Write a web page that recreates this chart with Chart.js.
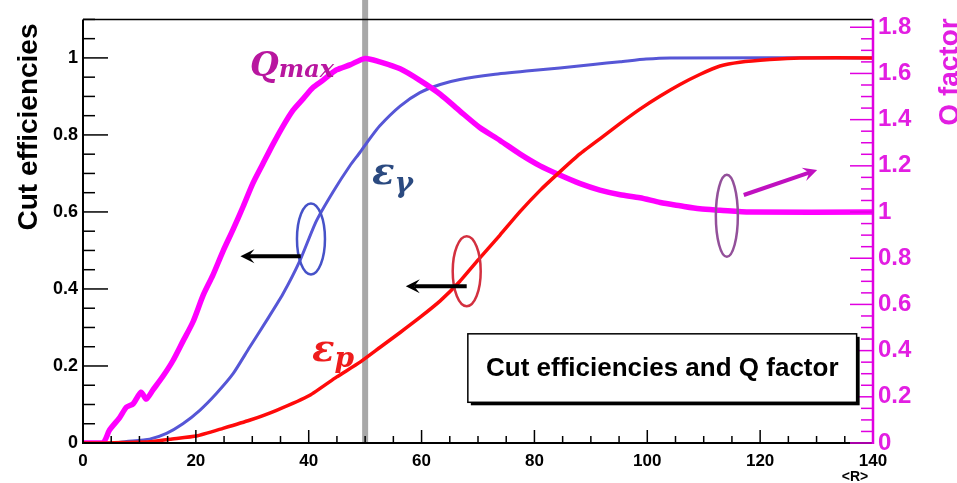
<!DOCTYPE html>
<html><head><meta charset="utf-8">
<script src="https://cdn.jsdelivr.net/npm/chart.js@4/dist/chart.umd.min.js"></script>
<style>html,body{margin:0;padding:0;background:#fff;}canvas{display:block;}</style>
</head><body>
<canvas id="c" width="957" height="483"></canvas>
<script>
// ---- data ----
const rP      = [0, 4, 7, 11.8, 15.4, 20.1, 24.8, 29.5, 34.3, 40.2, 44.9, 49.1, 52.6, 56.2, 59.7, 63.3, 66.8, 70.3, 73.9, 77.4, 81.0, 84.5, 88.0, 91.6, 95.2, 98.7, 102.3, 105.8, 109.3, 112.9, 116.4, 121.7, 127, 140];
const effP    = [0, 0, 0.001, 0.003, 0.01, 0.018, 0.038, 0.059, 0.085, 0.124, 0.171, 0.21, 0.248, 0.287, 0.326, 0.369, 0.42, 0.48, 0.54, 0.60, 0.656, 0.704, 0.75, 0.79, 0.83, 0.867, 0.901, 0.931, 0.957, 0.979, 0.989, 0.996, 1.0, 1.0];
const rG      = [0, 5, 7.7, 11.8, 14.8, 17.7, 20.7, 23.6, 26.6, 29.5, 32.5, 35.4, 38.4, 41.3, 44.3, 47.3, 49.1, 50.8, 52.6, 56.2, 59.7, 63.3, 66.8, 72.7, 78.6, 84.5, 90.4, 95.2, 99.8, 104, 140];
const effG    = [0, 0, 0.004, 0.01, 0.025, 0.05, 0.085, 0.128, 0.18, 0.248, 0.317, 0.386, 0.472, 0.575, 0.652, 0.72, 0.755, 0.79, 0.824, 0.875, 0.91, 0.931, 0.944, 0.957, 0.966, 0.974, 0.983, 0.99, 0.997, 1.0, 1.0];
const rQ      = [0, 3.5, 4.7, 6.5, 7.7, 8.9, 10.3, 11.2, 12.4, 14.2, 15.9, 17.7, 19.5, 21.3, 23.0, 24.8, 26.6, 28.4, 30.1, 31.9, 33.7, 35.4, 37.2, 39.0, 40.8, 42.5, 44.9, 47.3, 50.0, 52.6, 56.2, 59.7, 63.3, 66.8, 70.3, 73.9, 77.4, 81.0, 84.5, 88.0, 91.6, 95.2, 98.7, 102.3, 105.8, 109.3, 112.9, 118.2, 140];
const qFactor = [0, 0, 0.056, 0.11, 0.155, 0.17, 0.22, 0.19, 0.23, 0.29, 0.355, 0.44, 0.525, 0.64, 0.726, 0.83, 0.925, 1.025, 1.124, 1.21, 1.295, 1.37, 1.44, 1.49, 1.54, 1.57, 1.615, 1.637, 1.665, 1.65, 1.62, 1.57, 1.51, 1.437, 1.366, 1.31, 1.252, 1.20, 1.16, 1.124, 1.095, 1.075, 1.062, 1.041, 1.027, 1.014, 1.008, 1.0, 1.0];
const xTicks  = [0, 20, 40, 60, 80, 100, 120, 140];
const yTicks  = [0, 0.2, 0.4, 0.6, 0.8, 1];
const y1Ticks = [0, 0.2, 0.4, 0.6, 0.8, 1, 1.2, 1.4, 1.6, 1.8];
const cutR    = 50;
const boxTitle = 'Cut efficiencies and Q factor';

const MAG = '#ff00ff';
const MAGTXT = '#e21ee2';

function fmt(v){ return (v===0||v===1) ? String(v) : v.toFixed(1); }

const decor = {
  id:'decor',
  beforeDraw(chart){
    const ctx = chart.ctx;
    ctx.save(); ctx.fillStyle='#fff'; ctx.fillRect(0,0,chart.width,chart.height); ctx.restore();
  },
  beforeDatasetsDraw(chart){
    const ctx = chart.ctx, xs = chart.scales.x, a = chart.chartArea;
    const gx = xs.getPixelForValue(cutR);
    ctx.save();
    ctx.strokeStyle = '#a8a8a8'; ctx.lineWidth = 6;
    ctx.beginPath(); ctx.moveTo(gx, 0); ctx.lineTo(gx, a.bottom); ctx.stroke();
    ctx.restore();
  },
  afterDatasetsDraw(chart){
    const ctx = chart.ctx, xs = chart.scales.x, ys = chart.scales.y, y1 = chart.scales.y1, a = chart.chartArea;
    ctx.save();
    // frame
    ctx.lineCap='butt';
    ctx.strokeStyle='#000'; ctx.lineWidth=1.5;
    ctx.beginPath(); ctx.moveTo(a.left, a.top); ctx.lineTo(a.right, a.top); ctx.stroke();
    ctx.lineWidth=2;
    ctx.beginPath(); ctx.moveTo(a.left, a.top); ctx.lineTo(a.left, a.bottom); ctx.lineTo(a.right, a.bottom); ctx.stroke();
    // left ticks
    ctx.lineWidth=1.5;
    for(let v=0; v<=1.1001; v+=0.05){
      const p = ys.getPixelForValue(v);
      const major = Math.abs(v/0.2 - Math.round(v/0.2))<1e-6;
      ctx.beginPath(); ctx.moveTo(a.left, p); ctx.lineTo(a.left + (major?25:12), p); ctx.stroke();
    }
    // bottom ticks
    for(let v=0; v<=140.001; v+=5){
      const p = xs.getPixelForValue(v);
      const major = v%20===0;
      ctx.beginPath(); ctx.moveTo(p, a.bottom); ctx.lineTo(p, a.bottom - (major?13:7)); ctx.stroke();
    }
    // right axis (magenta)
    ctx.strokeStyle='#e000e0'; ctx.lineWidth=1.5;
    for(let v=0; v<=1.8001; v+=0.05){
      const p = y1.getPixelForValue(v);
      const major = Math.abs(v/0.2 - Math.round(v/0.2))<1e-6;
      ctx.beginPath(); ctx.moveTo(a.right, p); ctx.lineTo(a.right - (major?23:12), p); ctx.stroke();
    }
    ctx.lineWidth=2.5;
    ctx.beginPath(); ctx.moveTo(a.right, a.top); ctx.lineTo(a.right, a.bottom+1); ctx.stroke();

    // ellipses
    function ell(R, v, rx, ry, col, lw){
      ctx.strokeStyle=col; ctx.lineWidth=lw;
      ctx.beginPath(); ctx.ellipse(xs.getPixelForValue(R), ys.getPixelForValue(v), rx, ry, 0, 0, Math.PI*2); ctx.stroke();
    }
    function arrow(R0, v0, R1, v1, col, lw, hl, hw){
      const x0=xs.getPixelForValue(R0), yy0=ys.getPixelForValue(v0), x1=xs.getPixelForValue(R1), yy1=ys.getPixelForValue(v1);
      const ang=Math.atan2(yy1-yy0, x1-x0);
      ctx.strokeStyle=col; ctx.fillStyle=col; ctx.lineWidth=lw;
      const bx = x1 - Math.cos(ang)*hl*0.6, by = yy1 - Math.sin(ang)*hl*0.6;
      ctx.beginPath(); ctx.moveTo(x0,yy0); ctx.lineTo(bx,by); ctx.stroke();
      ctx.beginPath();
      ctx.moveTo(x1,yy1);
      ctx.lineTo(x1 - Math.cos(ang)*hl + Math.sin(ang)*hw, yy1 - Math.sin(ang)*hl - Math.cos(ang)*hw);
      ctx.lineTo(bx, by);
      ctx.lineTo(x1 - Math.cos(ang)*hl - Math.sin(ang)*hw, yy1 - Math.sin(ang)*hl + Math.cos(ang)*hw);
      ctx.closePath(); ctx.fill();
    }
    ell(40.4, 0.53, 14, 35.5, '#4652c8', 2.5);
    ell(68.0, 0.446, 14, 35, '#d3303f', 2.5);
    ell(114.1, 0.59, 11, 41, '#93509a', 2.5);
    arrow(38.6, 0.485, 27.9, 0.485, '#000', 4, 14, 7);
    arrow(68.0, 0.407, 57.2, 0.407, '#000', 4, 14, 7);
    arrow(117.1, 0.644, 130.1, 0.709, '#c010c0', 4, 14, 7);

    // symbol labels
    ctx.textBaseline='alphabetic'; ctx.textAlign='left';
    function sym(R, v, main, sub, col, f1, f2, dy){
      const x=xs.getPixelForValue(R), y=ys.getPixelForValue(v);
      ctx.fillStyle=col;
      ctx.font='italic bold '+f1+'px "DejaVu Serif"';
      ctx.fillText(main, x, y);
      const w=ctx.measureText(main).width;
      ctx.font='italic bold '+f2+'px "DejaVu Serif"';
      ctx.fillText(sub, x+w, y+dy);
    }
    sym(29.6, 0.954, 'Q', 'max', '#b8169f', 33, 24, 1);
    sym(51.2, 0.673, 'ε', 'γ', '#2b4a80', 37, 28, 8);
    sym(40.6, 0.214, 'ε', 'p', '#ee1c1c', 37, 28, 6);

    // title box
    const bx0=xs.getPixelForValue(68.2), bx1=xs.getPixelForValue(137.1);
    const by0=ys.getPixelForValue(0.2835), by1=ys.getPixelForValue(0.1057);
    ctx.fillStyle='#000'; ctx.fillRect(bx0+3, by0+3, bx1-bx0, by1-by0);
    ctx.fillStyle='#fff'; ctx.fillRect(bx0, by0, bx1-bx0, by1-by0);
    ctx.strokeStyle='#000'; ctx.lineWidth=1.5; ctx.strokeRect(bx0, by0, bx1-bx0, by1-by0);
    ctx.fillStyle='#000'; ctx.font='bold 26px "Liberation Sans", Arial, sans-serif';
    ctx.textAlign='center'; ctx.textBaseline='middle';
    ctx.fillText(boxTitle, (bx0+bx1)/2, (by0+by1)/2+1);

    // axis titles
    ctx.textAlign='center'; ctx.textBaseline='alphabetic';
    ctx.save(); ctx.translate(37, 127); ctx.rotate(-Math.PI/2);
    ctx.fillStyle='#000'; ctx.font='bold 28px "Liberation Sans", Arial, sans-serif';
    ctx.fillText('Cut efficiencies', 0, 0); ctx.restore();
    ctx.save(); ctx.translate(958, 72); ctx.rotate(-Math.PI/2);
    ctx.fillStyle=MAGTXT; ctx.font='bold 28px "Liberation Sans", Arial, sans-serif';
    ctx.fillText('Q factor', 0, 0); ctx.restore();
    ctx.fillStyle='#000'; ctx.font='bold 14px "Liberation Sans", Arial, sans-serif';
    ctx.fillText('<R>', 855, 481);
    ctx.restore();
  }
};

const pts = (xs, ys) => xs.map((x,i)=>({x, y: ys[i]}));

new Chart(document.getElementById('c'), {
  type:'line',
  data:{ datasets:[
    {label:'εp', data:pts(rP, effP), borderColor:'#ff0a0a', borderWidth:3.5, pointRadius:0, yAxisID:'y', tension:0.15},
    {label:'Q', data:pts(rQ, qFactor), borderColor:MAG, borderWidth:5.5, pointRadius:0, yAxisID:'y1', tension:0.25},
    {label:'εγ', data:pts(rG, effG), borderColor:'#5656d6', borderWidth:3, pointRadius:0, yAxisID:'y', tension:0.2}
  ]},
  options:{
    responsive:false, animation:false, devicePixelRatio:1,
    layout:{padding:{top:15, left:0, right:0, bottom:0}},
    plugins:{legend:{display:false}, tooltip:{enabled:false}},
    scales:{
      x:{type:'linear', min:0, max:140,
         grid:{display:false, drawTicks:false}, border:{display:false},
         afterBuildTicks(s){ s.ticks = xTicks.map(v=>({value:v})); },
         afterFit(s){ s.height = 40; },
         ticks:{color:'#000', padding:8, maxRotation:0, autoSkip:false, font:{family:'"Liberation Sans", Arial, sans-serif', size:17, weight:'bold'}}},
      y:{type:'linear', position:'left', min:0, max:1.1,
         grid:{display:false, drawTicks:false}, border:{display:false},
         afterBuildTicks(s){ s.ticks = yTicks.map(v=>({value:v})); },
         afterFit(s){ s.width = 83; },
         ticks:{color:'#000', padding:5, autoSkip:false, callback:v=>fmt(v), font:{family:'"Liberation Sans", Arial, sans-serif', size:18, weight:'bold'}}},
      y1:{type:'linear', position:'right', min:0, max:1.834,
         grid:{display:false, drawTicks:false}, border:{display:false},
         afterBuildTicks(s){ s.ticks = y1Ticks.map(v=>({value:v})); },
         afterFit(s){ s.width = 84; },
         ticks:{color:MAGTXT, padding:5, autoSkip:false, callback:v=>fmt(v), font:{family:'"Liberation Sans", Arial, sans-serif', size:24, weight:'bold'}}}
    }
  },
  plugins:[decor]
});
</script>
</body></html>
